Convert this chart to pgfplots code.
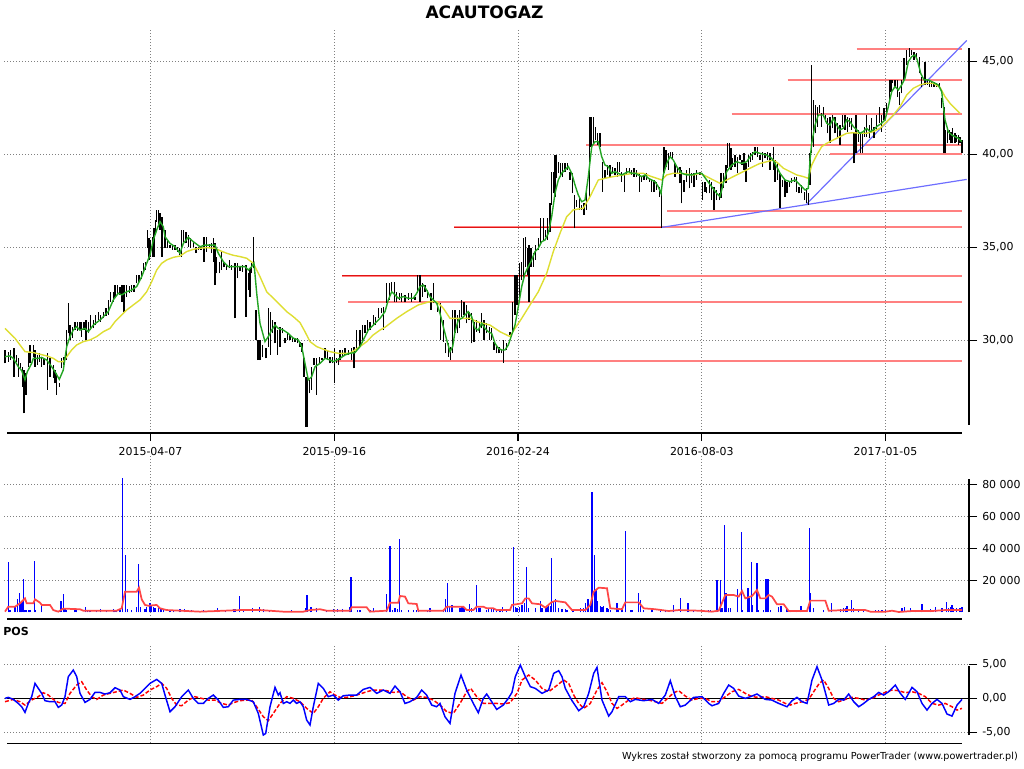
\documentclass[border=0pt]{standalone}
\usepackage{pgfplots}
\pgfplotsset{compat=1.18}
\usepackage{pgfplotstable}
\usepackage{fontspec}
\setmainfont{DejaVu Sans}
\definecolor{ma1}{RGB}{35,165,35}
\definecolor{ma2}{RGB}{222,222,50}
\definecolor{lvl}{RGB}{255,128,128}
\definecolor{lvlcore}{RGB}{225,20,20}
\definecolor{trend}{RGB}{110,110,255}
\definecolor{vma}{RGB}{255,70,70}
\definecolor{gridc}{RGB}{128,128,128}

\pgfplotstableread{
x lo hi
5.0 28.76 29.48
8.3 28.85 29.39
10.7 28.94 29.48
14.0 28.05 29.57
16.7 28.85 29.21
18.3 28.05 29.03
20.7 28.40 28.76
22.7 27.51 28.58
24.0 26.07 28.40
26.0 27.06 28.22
28.3 28.58 29.30
30.0 28.76 29.75
33.3 29.12 29.75
35.0 28.58 29.48
37.3 28.67 29.21
39.3 28.85 29.30
41.7 28.58 29.03
44.0 28.67 29.03
47.3 27.33 29.30
50.0 28.05 29.03
53.3 27.96 28.67
55.0 27.69 28.40
56.7 27.06 28.22
59.3 27.51 27.69
61.7 28.49 29.03
64.0 28.67 29.12
66.7 28.94 30.55
68.3 30.37 31.99
70.0 30.02 30.82
72.7 30.11 30.73
75.0 30.55 31.00
77.3 30.52 31.00
80.0 30.55 31.00
81.7 30.20 31.00
84.0 30.55 31.00
86.0 30.02 31.09
88.3 30.37 31.00
90.7 30.55 31.36
93.3 30.64 31.09
95.7 30.82 31.36
98.3 31.09 31.54
100.7 31.00 31.36
103.3 31.18 31.54
106.0 31.31 31.72
108.3 31.36 32.17
110.7 32.08 32.61
113.3 32.08 32.61
115.0 32.26 32.97
117.3 32.44 32.97
120.0 32.44 32.88
122.0 32.08 32.97
124.0 31.54 32.97
126.7 32.35 32.97
129.3 32.53 32.92
131.7 32.61 32.97
134.0 32.61 32.97
136.7 33.06 33.51
139.0 33.15 33.51
141.3 33.28 33.74
143.3 33.60 34.14
145.3 33.78 34.23
147.3 34.95 35.93
149.0 34.32 35.48
150.7 34.50 35.39
152.3 34.50 35.57
154.0 34.50 36.02
155.3 35.75 36.47
156.7 36.38 37.01
158.3 36.11 37.01
160.0 35.93 36.83
162.0 34.50 36.65
165.0 34.95 35.93
167.3 34.95 35.39
170.0 34.95 35.12
172.7 34.86 35.12
175.0 34.86 35.12
177.3 34.77 35.03
179.3 34.59 34.95
181.7 34.50 35.93
183.3 35.30 35.93
186.0 35.21 35.84
188.3 35.03 35.66
190.7 34.95 35.48
193.3 35.03 35.30
196.0 34.68 35.03
198.3 34.86 35.03
201.0 34.86 35.03
204.0 34.23 35.57
206.7 34.77 35.57
209.3 34.95 35.16
211.7 34.68 35.21
213.3 34.23 35.48
215.0 32.97 35.21
216.7 33.60 34.50
219.3 33.60 34.23
221.7 33.78 34.77
224.0 33.92 34.23
226.7 33.78 34.05
229.3 33.87 34.32
231.7 33.78 34.05
235.0 31.18 34.14
237.3 33.33 34.14
240.0 33.74 33.96
242.7 33.69 34.05
246.0 31.27 34.05
248.3 32.70 33.60
250.0 32.35 33.87
251.7 33.60 34.14
253.3 33.87 35.57
256.0 30.02 31.63
258.0 28.94 30.02
260.0 28.94 30.02
262.7 29.08 29.75
266.0 29.03 29.57
268.3 29.66 31.72
270.7 29.21 31.54
272.7 30.37 31.09
275.0 29.84 31.00
277.3 29.21 30.55
280.0 29.66 30.73
282.7 30.37 30.64
285.0 29.84 30.11
287.3 30.02 30.46
290.0 30.02 30.29
292.7 29.93 30.20
295.0 29.93 30.11
297.3 29.84 30.11
300.0 29.66 29.93
302.0 29.39 29.84
304.0 28.05 29.03
306.0 25.36 28.05
307.7 25.36 28.05
309.3 27.15 27.87
311.7 27.33 28.58
314.0 28.67 29.03
316.7 27.06 29.03
319.3 28.76 29.12
322.0 28.94 29.03
325.0 29.03 29.57
327.3 28.94 29.48
330.0 28.76 29.12
332.3 28.76 29.12
334.3 27.69 29.57
336.7 28.76 29.03
338.7 28.67 29.03
340.0 28.94 29.48
342.7 29.12 29.48
345.0 29.21 29.57
348.3 29.21 29.48
351.7 28.94 29.57
354.0 28.49 29.66
356.7 29.48 30.55
360.0 29.66 30.55
362.3 29.84 30.82
365.0 30.37 30.82
367.3 30.37 31.09
370.0 30.55 31.00
373.3 30.82 31.36
375.7 30.82 31.27
378.3 31.18 31.72
381.7 31.45 31.72
383.3 30.55 31.81
386.7 31.99 33.06
389.3 32.17 33.06
391.7 32.53 33.15
394.3 32.08 33.15
396.7 32.08 32.61
399.3 32.17 32.53
401.7 32.08 32.53
405.0 32.08 32.44
408.3 32.17 32.53
411.7 32.08 32.53
415.0 32.17 32.35
417.7 32.53 33.51
420.0 32.08 33.51
422.3 32.35 33.06
425.0 32.61 32.97
427.7 32.26 32.70
431.0 31.63 32.53
433.3 31.99 33.06
437.3 31.54 31.99
440.7 30.02 31.99
443.3 29.93 31.09
445.7 29.30 29.84
448.3 29.12 29.84
450.7 28.94 29.66
452.7 29.30 31.63
455.0 30.37 31.63
457.3 30.37 31.36
459.3 30.64 31.63
461.7 31.27 32.17
464.0 31.36 32.08
466.7 30.91 31.90
469.0 31.09 31.54
471.7 29.84 31.45
474.0 29.93 31.00
476.7 30.46 31.09
479.3 30.37 31.00
481.7 30.64 31.45
484.0 30.02 31.09
486.7 30.37 30.91
489.3 30.02 30.73
491.7 30.02 30.64
494.0 29.48 29.93
496.7 29.30 29.75
499.0 29.30 29.66
501.3 29.30 29.48
503.3 28.80 30.02
506.7 29.48 29.84
510.0 30.29 30.46
512.7 30.37 32.08
515.0 31.36 33.51
517.0 31.90 33.51
519.3 32.26 34.14
521.3 33.24 34.23
523.3 33.33 35.48
525.3 33.96 35.57
527.3 33.51 34.95
529.0 32.08 35.12
531.0 33.96 34.95
533.3 33.96 34.68
535.7 34.32 35.12
538.3 34.86 35.48
540.7 35.21 36.56
543.3 35.39 36.56
545.7 35.57 35.93
547.7 35.39 36.56
550.0 35.84 37.36
551.7 37.27 39.07
553.3 37.90 39.07
555.0 37.72 39.96
556.7 38.71 39.96
558.7 38.98 39.60
560.7 38.80 39.51
562.7 38.80 39.51
565.0 39.07 39.51
567.3 39.16 39.51
570.0 38.62 39.07
572.7 37.90 38.98
574.3 36.02 37.81
576.7 37.18 37.54
579.3 37.01 37.72
581.7 37.01 37.27
584.0 36.74 37.36
586.7 37.01 38.08
589.3 37.72 42.02
591.0 40.41 42.02
593.3 40.59 42.02
595.7 40.77 41.49
597.7 40.50 41.13
600.0 40.41 41.13
602.7 37.99 39.60
605.0 38.71 39.16
607.3 38.89 39.42
610.0 38.80 39.42
612.7 38.98 39.34
615.0 38.89 39.25
617.3 38.80 39.60
619.3 39.07 39.60
621.7 38.53 39.07
624.3 37.99 38.89
626.7 38.89 39.25
629.3 38.98 39.25
631.7 38.89 39.16
634.0 38.80 39.25
636.7 38.80 39.16
639.3 37.99 38.98
641.7 38.53 38.80
644.0 38.62 38.89
646.7 38.62 38.98
649.3 38.53 38.71
651.7 37.99 38.62
654.0 37.99 38.62
656.7 38.08 38.53
659.3 37.72 38.26
661.7 36.02 37.90
664.0 38.98 40.41
666.0 39.34 40.23
668.3 39.16 40.05
670.7 39.87 40.14
672.7 39.69 40.14
675.0 38.80 39.51
677.3 38.98 39.34
680.0 38.44 39.34
681.7 37.36 39.16
684.0 37.99 38.62
686.7 38.53 39.16
689.3 38.17 39.25
691.7 38.44 38.98
694.0 38.26 38.98
696.7 38.62 39.16
700.0 38.89 39.07
702.7 37.54 38.53
705.0 37.99 38.53
706.7 37.90 38.26
709.3 37.90 38.62
711.7 37.54 38.53
714.0 37.01 38.26
716.7 37.54 38.08
719.3 37.54 37.90
721.0 37.63 38.98
723.3 38.17 38.98
726.0 38.44 39.42
727.7 39.25 40.59
729.3 39.25 40.59
731.0 39.16 40.32
732.7 39.34 39.78
735.0 39.34 39.96
737.3 38.98 39.87
740.0 39.69 39.96
742.0 39.42 39.69
744.0 39.16 40.05
746.0 38.53 39.51
748.3 39.34 39.96
750.3 39.60 40.05
752.7 39.69 40.14
755.0 39.96 40.41
757.3 39.87 40.41
760.0 39.69 39.96
762.7 39.34 40.14
765.0 39.78 40.05
767.3 39.69 40.14
770.0 39.16 40.05
773.3 39.16 40.41
775.0 38.53 39.69
777.3 38.62 39.60
780.0 37.10 38.98
782.3 38.26 38.62
785.0 37.72 38.62
787.0 37.90 38.53
789.3 38.26 38.53
791.7 38.44 38.71
794.3 38.53 38.80
796.7 37.99 38.80
799.0 37.90 38.26
801.7 37.90 38.35
804.3 37.54 37.99
806.7 37.36 38.17
808.3 37.27 37.90
810.0 38.35 40.05
811.7 40.05 44.80
813.3 40.41 42.92
815.7 41.13 42.65
817.3 41.49 42.56
819.3 42.20 42.65
821.7 41.49 42.20
823.3 42.02 42.56
825.3 41.76 42.11
827.7 41.13 41.93
830.0 40.59 42.02
832.7 41.40 42.11
835.0 41.13 42.02
837.3 40.95 41.67
840.0 40.50 41.58
842.7 41.49 42.11
845.0 41.31 42.11
847.3 41.22 42.02
849.3 41.49 41.93
851.7 41.31 41.93
854.0 39.51 41.13
856.0 40.05 42.11
858.3 40.68 41.31
860.7 40.05 41.13
862.7 40.05 41.13
864.7 40.95 41.49
866.7 40.95 42.11
869.3 40.86 41.58
871.7 41.13 41.93
874.0 40.86 41.49
876.7 41.31 42.11
879.3 41.67 42.56
881.7 41.22 42.11
884.0 41.85 42.47
886.7 42.11 42.74
889.3 42.92 44.00
891.0 43.37 44.00
892.7 43.82 44.00
895.0 43.55 44.00
897.3 43.10 44.00
899.3 42.65 43.37
901.7 43.28 44.00
904.0 44.00 45.16
906.7 44.80 45.61
909.3 45.25 45.70
911.7 45.34 45.61
914.0 45.07 45.52
916.7 45.25 45.43
919.3 44.35 45.25
921.7 43.64 44.17
925.0 43.73 44.98
927.3 43.73 44.00
929.3 43.64 44.00
931.7 43.64 43.91
934.0 43.64 43.91
936.7 43.64 43.82
939.3 43.55 43.82
941.7 42.47 43.01
944.0 40.05 42.56
945.7 40.05 41.31
947.3 40.59 41.49
949.3 40.77 41.31
951.0 40.59 41.22
952.7 40.59 41.40
955.0 40.59 41.13
956.7 40.68 41.04
958.3 40.50 41.04
960.0 40.59 40.95
962.0 40.05 40.77
}\bars

\pgfplotstableread{
x v
8.3 31200
10 1400
15 3500
17.3 8100
19.3 11900
20.7 5600
22 6600
23.3 20800
25 1400
26.7 1400
28.3 1400
30 1400
34.3 32100
35.3 1400
41.7 4100
56.7 1000
61 7100
63.3 11400
65 2500
66.7 1400
75 1900
76.7 1900
85.7 3100
87.3 1400
90 1400
96.7 1400
100.7 2100
106.7 1400
113.3 1900
115 1400
116.7 1400
120 1400
122.3 84100
125.3 35800
127.7 1900
131.3 1400
136.7 3500
138.3 30200
140.7 3100
145 1900
146.7 3500
150 5600
151.7 4600
153.3 3500
155 2500
158.3 2500
161 2500
163.3 1900
170 1400
173.3 1400
180 1900
184.3 1900
191.7 1400
203.3 1400
215 1400
217.3 2500
225.7 1400
233.3 1900
235 1900
239.3 10200
243.3 1900
252.3 2500
259.3 3100
263.3 1900
269.3 1400
291.7 1400
305.7 2500
307 10800
311 3500
316.7 2500
326.7 1400
333.3 1900
337.7 1900
342.3 1900
349.3 3500
351 22300
357.3 1400
360 1400
370 1400
373.3 2500
386.7 11400
390 41400
392.7 1400
395 2500
397.3 1900
399.3 45800
401.7 1400
408.3 1400
413.3 1400
416.7 1400
418.3 1400
427.7 1400
430 2500
443.3 1400
445.3 8300
447.3 18100
449.3 3500
452 4600
460 2500
462 3500
464 2500
469.3 5200
471.7 2500
476.3 17100
478.3 2500
480 2500
486.7 1400
488.3 2500
491.7 2500
493.3 2500
496.7 1400
500 1400
502.3 3500
506.7 1400
513.7 41000
515.3 3500
517 2500
519.3 3500
522 4600
524.3 5600
526.3 28500
528.7 2500
535.3 2500
540.3 7100
542 2500
545.3 2500
547 3500
548.7 4600
550.3 4100
551.3 34100
553.3 6600
555.3 8300
558.7 2500
562 1900
565.3 1900
567 1400
573 1400
580.3 2500
583.7 2500
585.3 5600
588 8300
590.3 4600
592 75400
594.3 35800
596 13900
597.7 7100
600.3 4100
602 3500
603.7 4100
607 2500
608.7 1900
610.3 1400
617 5600
618.7 2500
622 2500
625.3 51000
630.3 1400
632 1400
638.7 11900
640.3 7700
643.7 1400
652 1400
660.3 1900
665.3 1400
673.7 4600
680.3 9100
688 5600
693.7 1400
708.7 1400
710.3 1400
717 20200
720.3 20200
722 2500
724.3 54500
726 11900
728.7 2500
730.3 2500
737.3 14600
741.3 50400
742.7 1400
748 15400
749.3 8700
751.3 31600
752.7 4600
757 31000
758.7 1400
763.7 1400
766 20800
768 20800
770.3 1400
778.7 3500
781 4100
787 1900
790.3 1400
797 1400
801 4100
809.3 52500
810.7 11900
813.7 2500
823.7 1400
831.3 5600
840.3 1900
843.7 2500
845.3 2500
847 4000
851.3 7700
853.7 2500
858.7 1900
863.7 1400
875.3 1400
878.7 1400
882 1400
885.3 1400
902 2500
904.7 3500
910.3 2500
915.3 1400
922 5200
930.3 1900
935.3 3100
942 2500
946.3 6600
948.7 2500
950.3 3500
952 4600
953.7 2500
956.7 2500
960 2500
962 3100
}\vol

\pgfplotsset{
  panel/.style={
    scale only axis, width=723.75pt, xmin=4, xmax=969, clip=false,
    axis line style={draw=none},
    xtick={150.5,334.3,518,701.8,885.5},
    xmajorgrids, ymajorgrids,
    grid style={gridc, line width=0.75pt, dash pattern=on 0.75pt off 1.5pt},
    ytick pos=right, yticklabel pos=right,
    tick align=outside,
    major tick length=6pt,
    tick style={black, line width=0.9pt},
    ticklabel style={font=\fontsize{8.2}{9}\selectfont},
    yticklabel style={anchor=west, inner sep=0pt, xshift=3.75pt},
  },
}

\begin{document}
\begin{tikzpicture}
\path[use as bounding box] (0,0) rectangle (768pt,576pt);

% ---------------- price panel
\begin{axis}[panel, at={(3pt,251.25pt)}, anchor=south west, height=303.75pt,
  ymin=25.016, ymax=46.79,
  ytick={30,35,40,45}, yticklabels={{30,00},{35,00},{40,00},{45,00}},
  xtick pos=bottom,
  xticklabels={2015-04-07,2015-09-16,2016-02-24,2016-08-03,2017-01-05},
  xticklabel style={anchor=north, inner sep=0pt, yshift=-4.5pt}]
% support / resistance levels
\addplot[lvl, line width=1.5pt] coordinates {(337,28.90) (962,28.90)};
\addplot[lvl, line width=1.5pt] coordinates {(348,32.06) (962,32.06)};
\addplot[lvl, line width=1.5pt] coordinates {(342,33.47) (962,33.47)};
\addplot[lvlcore, line width=0.6pt] coordinates {(342,33.47) (660,33.47)};
\addplot[lvl, line width=1.5pt] coordinates {(454,36.07) (962,36.07)};
\addplot[lvlcore, line width=0.6pt] coordinates {(454,36.07) (662,36.07)};
\addplot[lvl, line width=1.5pt] coordinates {(667,36.97) (962,36.97)};
\addplot[lvl, line width=1.5pt] coordinates {(830,40.00) (962,40.00)};
\addplot[lvl, line width=1.5pt] coordinates {(586,40.50) (962,40.50)};
\addplot[lvl, line width=1.5pt] coordinates {(731.7,42.19) (962,42.19)};
\addplot[lvl, line width=1.5pt] coordinates {(787.7,44.00) (962,44.00)};
\addplot[lvl, line width=1.5pt] coordinates {(856.7,45.66) (962,45.66)};
% trend lines
\addplot[trend, line width=0.9pt] coordinates {(661.7,36.07) (966.7,38.65)};
\addplot[trend, line width=0.9pt] coordinates {(806.7,37.33) (966.7,46.12)};
% bars
\addplot[black, line width=1pt, quiver={u=0, v=\thisrow{hi}-\thisrow{lo}}] table[x=x, y=lo] {\bars};
% long moving average
\addplot[ma2, line width=1.05pt] coordinates {
(5,30.64) (10,30.37) (15,30.11) (20,29.75) (25,29.39) (33.3,29.34) (40,29.25) (46.7,29.16) (53.3,29.03) (58.3,28.85) (63.3,28.85) (66.7,29.12) (71.7,29.48) (76.7,29.75) (83.3,29.93) (90,30.02) (96.7,30.20) (103.3,30.46) (110,30.64) (115,31.00) (120,31.27) (126.7,31.63) (133.3,31.90) (140,32.17) (146.7,32.61) (151.7,33.15) (156.7,33.78) (161.7,34.14) (166.7,34.32) (173.3,34.46) (180,34.53) (186.7,34.77) (193.3,34.89) (200,34.95) (206.7,34.98) (215,34.95) (220,34.82) (226.7,34.68) (233.3,34.57) (240,34.50) (246.7,34.41) (253.3,34.14) (260,33.42) (266.7,32.61) (273.3,32.26) (280,31.90) (286.7,31.54) (293.3,31.27) (300,30.95) (305,30.46) (310,29.93) (316.7,29.66) (323.3,29.52) (330,29.39) (338.3,29.30)
(350,29.30) (360,29.66) (366.7,29.93) (373.3,30.29) (380,30.55) (385,30.70) (396.7,31.18) (406.7,31.54) (418.3,31.90) (430,32.08) (436.7,32.08) (443.3,31.72) (450,31.18) (456.7,31.18) (470,31.18) (476.7,31.00) (490,30.82) (500,30.46) (510,30.20) (515,30.64) (521.7,31.18) (530,31.90) (538.3,32.61) (546.7,33.60) (553.3,34.77) (560,35.75) (566.7,36.65) (573.3,37.01) (583.3,37.10) (590,37.72) (598.3,38.62) (605,38.71) (613.3,38.80) (623.3,38.89) (633.3,38.98) (643.3,38.98) (650,38.83) (656.7,38.71) (661.7,38.62) (666.7,38.89)
(673.3,38.98) (680,38.98) (686.7,38.94) (693.3,38.89) (700,38.98) (706.7,38.80) (713.3,38.62) (720,38.44) (726.7,38.62) (733.3,38.80) (740,38.98) (746.7,39.16) (753.3,39.34) (760,39.51) (766.7,39.60) (773.3,39.69) (778.3,39.51) (783.3,39.25) (790,39.07) (796.7,38.89) (803.3,38.80) (808.3,38.71) (811.7,39.42) (816.7,39.96) (821.7,40.41) (826.7,40.59) (833.3,40.77) (840,40.95) (846.7,41.13) (853.3,41.16) (860,41.13) (866.7,41.13) (873.3,41.22) (880,41.40) (886.7,41.76) (893.3,42.11) (900,42.56) (906.7,43.19) (913.3,43.55) (920,43.73) (926.7,43.82) (933.3,43.82) (940,43.60) (945,43.10) (950,42.74) (955,42.47) (960,42.20)};
% short moving average
\addplot[ma1, line width=1.05pt] coordinates {
(5,29.12) (10,29.16) (13.3,29.03) (18.3,28.58) (21.7,28.37) (25,27.87) (27.3,28.31) (31.7,28.76) (33.3,29.03) (38.3,29.03) (41.7,29.08) (46.7,28.94) (51.7,28.58) (55,28.31) (59.3,27.90) (63.3,28.40) (66.7,29.66) (70,30.20) (73.3,30.55) (76.7,30.73) (80,30.55) (85,30.64) (88.3,30.46) (93.3,30.82) (100,31.09) (105,31.36) (108.3,31.54) (113.3,32.17) (118.3,32.53) (121.7,32.44) (126.7,32.61) (131.7,32.70) (136.7,32.89) (141.7,33.42) (146.7,34.14) (150,34.59) (153.3,35.39) (156.7,35.93) (160,36.38) (163.3,36.11) (165,35.57) (170,35.21) (175,35.03) (180,34.68) (183.3,35.21) (188.3,35.54) (193.3,35.30) (200,35.03) (205,35.12) (210,35.12) (215,35.12) (218.3,34.68) (223.3,34.23) (228.3,33.96) (233.3,33.96) (240,33.96) (245,33.96) (248.3,33.78) (251.7,33.96) (254,34.14) (256.7,32.53) (260,30.91) (265,29.93) (268.3,30.20) (271.7,30.55) (275,30.82) (278.3,30.64) (283.3,30.55) (288.3,30.37) (293.3,30.11) (298.3,30.02) (301.7,29.66) (305,28.76) (308.3,27.87) (311.7,28.05) (315,28.58) (320,28.76) (325,29.03) (330,28.94) (333.3,28.85) (338.3,28.98)
(340,29.03) (345,29.21) (350,29.30) (355,29.34) (360,29.66) (363.3,30.02) (368.3,30.55) (373.3,30.82) (380,31.18) (385,31.54) (388.3,32.17) (391.7,32.61) (395,32.44) (398.3,32.26) (403.3,32.35) (408.3,32.26) (413.3,32.26) (416.7,32.53) (420,32.89) (423.3,32.97) (426.7,32.70) (430,32.35) (433.3,32.17) (436.7,31.99) (440,31.45) (443.3,30.73) (446.7,30.02) (450,29.39) (452.7,29.66) (455,30.46) (458.3,31.09) (461.7,31.18) (465,31.36) (468.3,31.54) (471.7,31.27) (475,30.64) (478.3,30.55) (481.7,30.91) (485,30.64) (488.3,30.46) (491.7,30.37) (495,29.84) (498.3,29.57) (501.7,29.48) (505,29.48) (508.3,29.75) (511.7,30.29) (515,30.82) (518.3,31.81) (521.7,32.89) (525,33.60) (528.3,33.96) (531.7,34.32) (535,34.77) (538.3,34.95) (541.7,35.30) (545,35.39) (548.3,35.75) (551.7,36.65) (555,37.90) (558.3,38.62) (561.7,38.98) (565,39.16) (568.3,39.34) (571.7,38.98) (575,38.35) (578.3,37.81) (581.7,37.45) (585,37.54) (588.3,38.80) (591.7,40.41) (595,40.68) (598.3,40.68) (601.7,39.87) (605,39.42) (608.3,39.34) (611.7,38.98) (615,39.07) (618.3,38.98) (621.7,38.89) (625,38.98) (628.3,39.07) (631.7,38.98) (635,38.98) (638.3,38.89) (641.7,38.80) (645,38.89) (648.3,38.71) (651.7,38.62) (655,38.53) (658.3,38.26) (661,37.90) (663.3,38.89) (666.7,39.51)
(670,39.87) (673.3,39.69) (676.7,39.34) (681.7,38.98) (686.7,38.89) (691.7,38.89) (696.7,38.98) (701.7,38.98) (706.7,38.62) (711.7,38.26) (716.7,37.90) (720,37.72) (723.3,38.44) (726.7,39.07) (731.7,39.42) (736.7,39.60) (741.7,39.51) (746.7,39.60) (750,39.87) (755,40.14) (760,40.05) (766.7,39.96) (771.7,39.78) (775,39.51) (780,38.98) (785,38.62) (790,38.53) (795,38.62) (800,38.35) (805,38.08) (808.3,38.17) (810,39.69) (811.7,40.59) (815,41.57) (818.3,42.11) (823.3,42.11) (826.7,41.67) (830,41.57) (833.3,41.93) (836.7,41.57) (840,41.31) (843.3,41.40) (846.7,41.85) (850,41.76) (853.3,41.49) (856.7,41.31) (860,41.13) (863.3,41.22) (866.7,41.40) (870,41.22) (873.3,41.31) (876.7,41.49) (881.7,41.67) (885,41.85) (888.3,42.56) (891.7,43.37) (895,43.64) (898.3,43.46) (901.7,43.73) (905,44.09) (908.3,44.98) (911.7,45.25) (915,45.34) (917.3,45.07) (920.7,44.35) (924,44.00) (928.3,44.00) (931.7,43.91) (935,43.82) (938.3,43.73) (941.7,43.37) (945,41.85) (948.3,41.22) (951.7,41.04) (955,40.95) (958.3,40.86) (961.7,40.68)};
% axis lines
\draw[black, line width=1pt] (axis cs:7,25.016) -- (axis cs:962,25.016);
\draw[black, line width=1pt] (axis cs:969,25.45) -- (axis cs:969,45.72);
\end{axis}

% ---------------- volume panel
\begin{axis}[panel, at={(3pt,111.75pt)}, anchor=south west, height=122.25pt,
  ymin=-4190, ymax=97690, scaled y ticks=false,
  ytick={20000,40000,60000,80000}, yticklabels={20 000,40 000,60 000,80 000},
  xticklabels={}, xtick style={draw=none}]
\addplot[ycomb, blue, line width=0.8pt] table[x=x, y=v] {\vol};
\addplot[vma, line width=1.3pt] coordinates {
(5,400) (8.3,3500) (15,3500) (20,5600) (23.3,7700) (25,8700) (26.7,5600) (33.3,5600) (35,8100) (40,6000) (41.7,4600) (50,4600) (53.3,1400) (58.3,400) (63.3,2300) (80,1900) (83.3,1000) (116.7,1000) (121.7,2500) (125,12900) (136.7,12900) (139,15400) (141.7,8100) (145,4600) (148.3,4100) (156.7,4600) (160,2500) (166.7,1400) (200,400) (216.7,800) (240,1400) (260,1400) (283.3,400) (303.3,400) (310,1400) (320,1900) (326.7,1000) (350,1000) (351.7,3100) (366.7,3100) (370,400) (386.7,1000) (390,6000) (398.3,6000) (400,10200) (405,9800) (408.3,5600) (416.7,5200) (418.3,1000) (443.3,1000) (446.7,3500) (463.3,3500) (466.7,1400) (473.3,1400) (476.7,3500) (483.3,3500) (486.7,2500) (493.3,2500) (496.7,1400) (510,1400)
(512,4600) (522,5600) (525.3,8700) (528.7,8700) (532,5600) (540.3,5000) (545.3,2900) (551.3,6200) (555.3,7100) (565.3,6200) (572,1400) (585.3,1400) (590.3,4600) (593.7,12900) (598.7,15400) (607,15000) (610.3,2500) (622,1900) (625.3,6200) (638.7,6200) (643.7,2500) (655.3,1900) (668.7,800) (678.7,1400) (698.7,1000) (712,400) (718.7,1000) (725.3,10800) (733.7,10800) (738.7,9800) (742,13300) (745.3,8700) (752,10200) (757,13900) (760.3,8700) (765.3,8700) (768.7,10800) (772,9800) (777,5000) (783.7,5000) (788.7,800) (807,800) (810.3,7300) (825.3,7300) (828.7,1000) (845.3,1400) (865.3,1400) (870.3,400) (885.3,400) (892,1000) (898.7,200) (912,800) (932,800) (945.3,1400) (962,1400)};
\draw[black, line width=1pt] (axis cs:7,-4190) -- (axis cs:962,-4190);
\draw[black, line width=1pt] (axis cs:969,0) -- (axis cs:969,83300);
\end{axis}

% ---------------- POS panel
\begin{axis}[panel, at={(3pt,18.5pt)}, anchor=south west, height=73.7pt,
  ymin=-6.61, ymax=7.84,
  ytick={-5,0,5}, yticklabels={{-5,00},{0,00},{5,00}},
  xticklabels={}, xtick style={draw=none}]
\draw[black, line width=1pt] (axis cs:7,0) -- (axis cs:969,0);
\addplot[red, line width=1.1pt, dash pattern=on 3pt off 1.5pt] coordinates {
(5,-0.49) (13.3,-0.15) (20,-0.49) (25,-0.98) (31.7,-0.25) (38.3,0.25) (43.3,0.83) (48.3,0.49) (53.3,-0.15) (58.3,-0.59) (65,-0.74) (70,0.74) (76.7,1.96) (81.7,2.45) (86.7,1.23) (91.7,0.25) (96.7,-0.15) (103.3,0.49) (110,0.74) (116.7,0.98) (123.3,1.23) (130,0.74) (136.7,0.15) (143.3,0.49) (150,1.23) (156.7,1.72) (161.7,2.21) (166.7,1.47) (171.7,0) (176.7,-0.98) (181.7,-1.08) (188.3,-0.25) (195,0.25) (201.7,0) (208.3,-0.25) (215,-0.25) (221.7,-0.74) (228.3,-0.98) (233.3,-0.64) (240,-0.34) (246.7,-0.25) (251.7,-0.25) (256.7,-1.23) (263.3,-2.70) (268.3,-3.28) (273.3,-2.21) (280,-0.74) (286.7,0.25) (293.3,0) (300,-0.49) (306.7,-1.47) (313.3,-2.21) (318.3,-1.23) (323.3,0) (330,0.98) (335,0.49) (340,0.15) (346.7,0.15) (353.3,0.34) (360,0.64) (366.7,0.98) (373.3,1.23) (380,1.23) (386.7,1.13) (393.3,0.88) (400,0.98) (406.7,0.25) (413.3,-0.25) (420,0.25) (426.7,0.15) (433.3,-0.25) (440,-0.98) (446.7,-1.96) (453.3,-2.21) (460,-0.74) (466.7,0.98) (470.7,1.47) (476.7,0.25) (483.3,-0.74) (490,-0.74) (496.7,-0.74) (503.3,-0.83) (510,-0.64)
(512,-0.25) (517,0.74) (522,2.70) (528.7,3.43) (535.3,2.70) (542,1.47) (548.7,0.98) (555.3,1.72) (563.7,2.70) (568.7,2.21) (573.7,0.49) (578.7,-0.74) (583.7,-1.47) (590.3,-0.74) (597,1.23) (602,2.30) (607,0.98) (612,-0.74) (617,-1.47) (622,-0.98) (628.7,-0.25) (635.3,0.10) (642,-0.10) (648.7,-0.25) (655.3,-0.49) (662,-0.74) (668.7,0.15) (673.7,0.83) (678.7,1.13) (685.3,0.34) (692,-0.25) (698.7,0) (705.3,0) (712,-0.49) (718.7,-0.49) (725.3,0.25) (732,0.98) (738.7,1.32) (745.3,0.74) (752,0.25) (758.7,0.15) (765.3,0.25) (772,0) (778.7,-0.25) (785.3,-0.74) (790.3,-0.98) (795.3,-0.74) (802,-0.49) (808.7,-0.15) (813.7,0.98) (819.3,2.21) (823.7,2.70) (828.7,1.47) (833.7,0) (838.7,-0.49) (845.3,-0.15) (852,0.15) (858.7,0) (865.3,-0.25) (872,0) (878.7,0.49) (885.3,0.88) (892,1.23) (898.7,1.13) (905.3,0.83) (912,0.98) (918.7,0.74) (925.3,0.25) (932,-0.74) (938.7,-0.98) (945.3,-0.74) (952,-1.23) (957,-1.72) (962,-1.47)};
\addplot[blue, line width=1.1pt] coordinates {
(5,0) (8.3,0.15) (13.3,-0.15) (18.3,-0.74) (21.7,-1.23) (25,-2.06) (28.3,-0.74) (31.7,0.25) (35,2.21) (38.3,1.47) (41.7,0.74) (45,-0.34) (50,-0.49) (55,-0.49) (58.3,-1.32) (61.7,-0.98) (65,0.25) (68.3,3.19) (73.3,4.17) (76.7,3.19) (80,0.74) (85,-0.59) (90,-0.15) (95,0.88) (100,0.88) (105,0.64) (110,0.83) (115,1.57) (120,1.23) (123.3,0.25) (130,-0.15) (135,0.25) (140,0.74) (145,1.47) (150,2.21) (156.7,2.79) (161.7,2.21) (165,0.49) (170,-1.96) (175,-1.23) (181.7,0.25) (188.3,1.23) (193.3,0) (198.3,-0.74) (203.3,-0.74) (208.3,0) (213.3,0.49) (218.3,-0.25) (223.3,-1.32) (228.3,-1.23) (233.3,-0.25) (240,-0.15) (246.7,-0.15) (253.3,-0.49) (258.3,-2.21) (263.3,-5.39) (265.7,-5.15) (270,-1.23) (275,1.62) (278.3,0.49) (280,0.83) (283.3,-0.74) (286.7,-0.49) (290,-0.74) (293.3,-0.25) (296.7,-0.74) (300,-0.49) (303.3,-1.23) (306.7,-3.19) (310,-3.92) (313.3,-1.23) (318.3,2.21) (323.3,1.47) (328.3,0.25) (333.3,0.49) (338.3,-0.25) (343.3,0.39) (350,0.49) (356.7,0.49) (363.3,1.32) (370,1.62) (376.7,0.74) (383.3,1.23) (390,0.74) (395,1.81) (400,0.98) (405,-0.74) (410,-0.49) (416.7,0.15) (421.7,1.23) (426.7,0.49) (431.7,-0.98) (436.7,-1.23) (440,-0.74) (445,-2.70) (450,-3.68) (455,0.74) (461,3.43) (466.7,1.23) (473.3,-0.74) (478.3,-2.11) (483.3,0) (486.7,0.64) (491.7,-0.49) (496.7,-1.62) (503.3,-0.98) (508.3,0) (512,0.88)
(515.3,3.19) (520.3,4.90) (525.3,3.19) (530.3,1.72) (535.3,1.47) (542,0.74) (548.7,1.23) (553.7,3.68) (558.7,4.07) (562,3.19) (565.3,1.47) (572,-0.34) (578.7,-1.81) (583.7,-1.23) (588.7,0.74) (593.7,3.68) (597,4.56) (602,-0.25) (608.7,-2.60) (612,-1.96) (618.7,0.25) (625.3,0.25) (630.3,-0.49) (635.3,-0.15) (643.7,-0.34) (652,-0.15) (658.7,-0.74) (665.3,0.49) (670.3,2.60) (675.3,0.25) (680.3,-1.23) (685.3,-0.98) (693.7,0.15) (702,0.25) (708.7,-0.74) (712,-1.08) (718.7,-0.74) (723.7,0.74) (728.7,1.96) (733.7,1.47) (738.7,0.34) (745.3,0) (750.3,0.25) (757,0.64) (765.3,-0.15) (772,-0.25) (778.7,-0.74) (787,-1.23) (792,-0.34) (797,0.15) (802,-0.49) (807,-0.74) (812,2.70) (817,4.66) (822,2.70) (828.7,-0.98) (833.7,-0.74) (838.7,-0.15) (843.7,-0.25) (848.7,0.64) (853.7,-0.49) (858.7,-1.23) (863.7,-0.74) (868.7,-0.15) (873.7,0.25) (878.7,0.88) (883.7,0.49) (888.7,0.98) (895.3,1.96) (900.3,0.74) (905.3,-0.15) (912,1.62) (917,0.98) (922,-0.74) (927,-1.72) (932,-0.74) (937,-0.15) (942,-0.74) (947,-2.30) (952,-2.60) (957,-0.98) (962,-0.15)};
\draw[black, line width=1pt] (axis cs:7,-6.61) -- (axis cs:962,-6.61);
\draw[black, line width=1pt] (axis cs:969,-5.4) -- (axis cs:969,4.8);
\end{axis}

% ---------------- texts
\node[font=\fontsize{12.8}{14}\selectfont\bfseries, inner sep=0pt] at (363.4pt,567pt) {ACAUTOGAZ};
\node[font=\fontsize{8.3}{9}\selectfont\bfseries, anchor=west, inner sep=0pt] at (2.25pt,102.75pt) {POS};
\node[font=\fontsize{7.25}{9}\selectfont, anchor=east, inner sep=0pt] at (763.5pt,8.5pt) {Wykres został stworzony za pomocą programu PowerTrader (www.powertrader.pl)};
\end{tikzpicture}
\end{document}
